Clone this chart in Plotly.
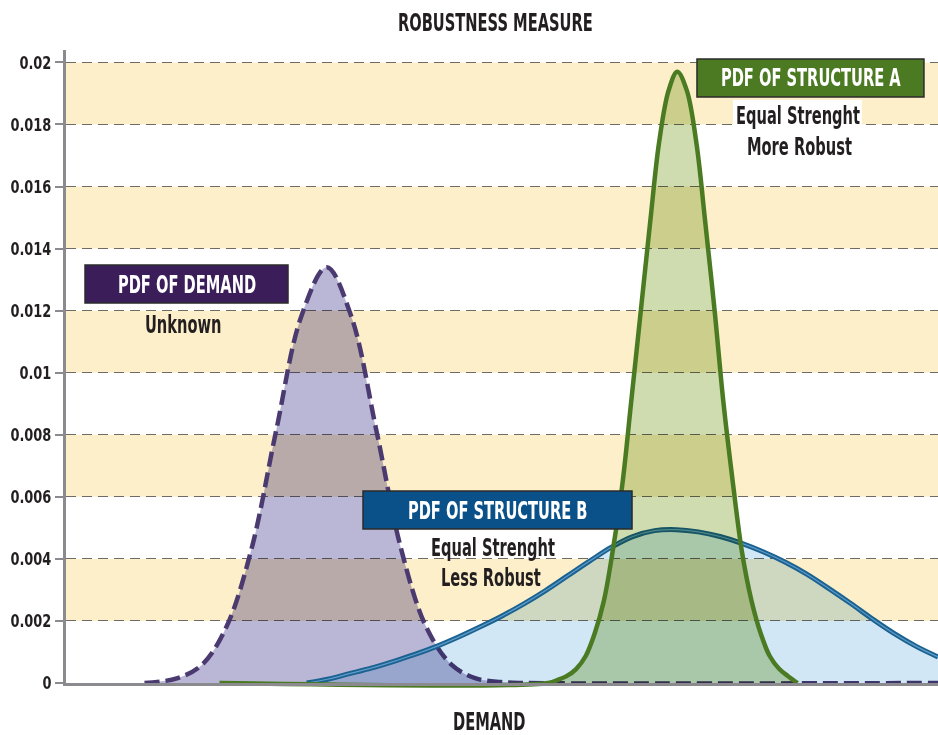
import plotly.graph_objects as go

# Demand axis is unitless (0-100, no tick labels); y is probability density.
demand_x = [9.0, 12.7, 15.6, 18.4, 21.3, 24.1, 27.0, 29.9, 32.7, 35.6, 38.4,
            41.3, 44.2, 47.0, 49.9, 52.7, 100.0]
demand_pdf = [0.0, 0.00015, 0.00059, 0.00181, 0.00435, 0.00813, 0.01183, 0.0134,
              0.01183, 0.00813, 0.00435, 0.00181, 0.00059, 0.00015, 0.00003, 0.0, 0.0]

struct_b_x = [27.6, 30.0, 32.5, 35.0, 37.5, 40.0, 42.5, 45.0, 47.5, 50.0, 52.5,
              55.0, 57.5, 60.0, 62.5, 65.0, 67.5, 70.0, 72.5, 75.0, 77.5, 80.0,
              82.5, 85.0, 87.5, 90.0, 92.5, 95.0, 97.5, 100.0]
struct_b_pdf = [0.0, 0.00012, 0.00030, 0.00048, 0.00069, 0.00092, 0.00118, 0.00148,
                0.00181, 0.00216, 0.00255, 0.00298, 0.00345, 0.00392, 0.00437,
                0.00472, 0.00491, 0.00494, 0.00487, 0.00472, 0.00450, 0.00422,
                0.00389, 0.00350, 0.00304, 0.00256, 0.00206, 0.00159, 0.00118, 0.00084]

struct_a_x = [17.6, 55.3, 56.4, 57.4, 58.5, 59.6, 60.6, 61.7, 62.7, 63.8, 64.8,
              65.9, 67.0, 68.0, 69.1, 70.1, 71.2, 72.3, 73.3, 74.4, 75.4, 76.5,
              77.5, 78.6, 79.7, 80.7, 81.8, 82.8, 83.9]
struct_a_pdf = [0.0, 0.0, 0.00010, 0.00022, 0.00045, 0.00087, 0.00157, 0.00267,
                0.00426, 0.00640, 0.00902, 0.01195, 0.01487, 0.01739, 0.01909,
                0.0197, 0.01909, 0.01739, 0.01487, 0.01195, 0.00902, 0.00640,
                0.00426, 0.00267, 0.00157, 0.00087, 0.00045, 0.00022, 0.0]

y_tick_vals = [0, 0.002, 0.004, 0.006, 0.008, 0.01, 0.012, 0.014, 0.016, 0.018, 0.02]
y_tick_text = ["0", "0.002", "0.004", "0.006", "0.008", "0.01", "0.012", "0.014",
               "0.016", "0.018", "0.02"]
band_ranges = [(0.002, 0.004), (0.006, 0.008), (0.010, 0.012), (0.014, 0.016), (0.018, 0.020)]

FONT = "DejaVu Sans Condensed, Liberation Sans Narrow, sans-serif"
TEXT = "#231f20"
AXIS = "#8b8b8f"
LABEL_SIZE = 16.3      # set width of the condensed labels
LABEL_STRETCH = 1.47   # vertical stretch giving the tall condensed look

fig = go.Figure()

fig.add_trace(go.Scatter(
    x=demand_x, y=demand_pdf, mode="lines", line_shape="spline",
    line=dict(color="#4b3a70", width=4.5, dash="15px,6px"),
    fill="tozeroy", fillcolor="#bab6d6", name="PDF of demand"))

fig.add_trace(go.Scatter(
    x=struct_b_x, y=struct_b_pdf, mode="lines", line_shape="spline",
    line=dict(color="#1b6290", width=5),
    fill="tozeroy", fillcolor="#d1e7f5", name="PDF of structure B"))
fig.add_trace(go.Scatter(
    x=struct_b_x, y=struct_b_pdf, mode="lines", line_shape="spline",
    line=dict(color="#5f9ccb", width=1.2), hoverinfo="skip", showlegend=False))

fig.add_trace(go.Scatter(
    x=struct_a_x, y=struct_a_pdf, mode="lines", line_shape="spline",
    line=dict(color="#4a7b22", width=4.5),
    fill="tozeroy", fillcolor="#cfdcb0", name="PDF of structure A"))

# Alternating horizontal bands behind the grid.
shapes = [dict(type="rect", xref="paper", x0=0, x1=1, yref="y", y0=lo, y1=hi,
               fillcolor="#fcefc9", line=dict(width=0), layer="below")
          for lo, hi in band_ranges]


def label_box(x0, x1, y0, y1, fill):
    return dict(type="rect", xref="paper", yref="paper", x0=x0, x1=x1, y0=y0, y1=y1,
                fillcolor=fill, line=dict(color="#2b2b2b", width=1.5), layer="above")


shapes += [
    label_box(0.0218, 0.2546, 0.6003, 0.6603, "#3b1d5a"),
    label_box(0.3406, 0.6491, 0.2433, 0.3033, "#0a5089"),
    label_box(0.7236, 0.9839, 0.9258, 0.9858, "#4c7a23"),
    dict(type="rect", xref="paper", yref="paper", x0=0.7649, x1=0.9128,
         y0=0.8768, y1=0.9210, fillcolor="white", line=dict(width=0), layer="above"),
]


def note(text, x, y, color=TEXT):
    return dict(text="<b>" + text + "</b>", x=x, y=y, xref="paper", yref="paper",
                showarrow=False, xanchor="center", yanchor="middle",
                font=dict(family=FONT, size=LABEL_SIZE, color=color))


annotations = [
    note("ROBUSTNESS MEASURE", 0.4920, 1.0442),
    note("DEMAND", 0.4851, -0.0616),
    note("PDF OF DEMAND", 0.1382, 0.6295, "white"),
    note("Unknown", 0.1353, 0.5656),
    note("PDF OF STRUCTURE B", 0.4948, 0.2733, "white"),
    note("Equal Strenght", 0.4897, 0.2133),
    note("Less Robust", 0.4874, 0.1659),
    note("PDF OF STRUCTURE A", 0.8538, 0.9558, "white"),
    note("Equal Strenght", 0.8394, 0.8973),
    note("More Robust", 0.8406, 0.8468),
]

fig.update_layout(
    width=938, height=735,
    margin=dict(l=66, r=0, t=50, b=52),
    paper_bgcolor="white", plot_bgcolor="white",
    showlegend=False,
    shapes=shapes,
    annotations=annotations,
    xaxis=dict(range=[0, 100], showgrid=False, zeroline=False, showticklabels=False,
               ticks="", showline=True, linecolor=AXIS, linewidth=3, fixedrange=True),
    yaxis=dict(range=[0, 0.0204], tickmode="array", tickvals=y_tick_vals,
               ticktext=y_tick_text, showgrid=True, gridcolor="#6e6b67",
               griddash="10px,6px", gridwidth=1.3, zeroline=False,
               showline=True, linecolor=AXIS, linewidth=3,
               ticks="outside", ticklen=8, tickcolor=AXIS, tickwidth=1.5,
               tickfont=dict(family=FONT, size=18, color=TEXT, weight="bold"),
               fixedrange=True),
)

# Density fills are multiplied over the banded background so overlaps tint;
# annotation text is stretched vertically for a tall condensed face.
post_js = """
var gd = document.getElementById('{plot_id}');
gd.querySelectorAll('.cartesianlayer [clip-path]').forEach(function (el) {
  el.removeAttribute('clip-path');
});
gd.querySelectorAll('.scatterlayer .js-fill').forEach(function (p) {
  p.style.mixBlendMode = 'multiply';
});
gd.querySelectorAll('.annotation-text-g').forEach(function (g) {
  g.style.transformBox = 'fill-box';
  g.style.transformOrigin = 'center';
  g.style.transform = 'scale(1, %s)';
});
gd.querySelectorAll('.ytick text').forEach(function (t) {
  var w = t.getComputedTextLength();
  t.setAttribute('textLength', (w * 0.8).toFixed(1));
  t.setAttribute('lengthAdjust', 'spacingAndGlyphs');
});
""" % LABEL_STRETCH

fig.write_html("out.html", post_script=post_js, config={"displayModeBar": False})
